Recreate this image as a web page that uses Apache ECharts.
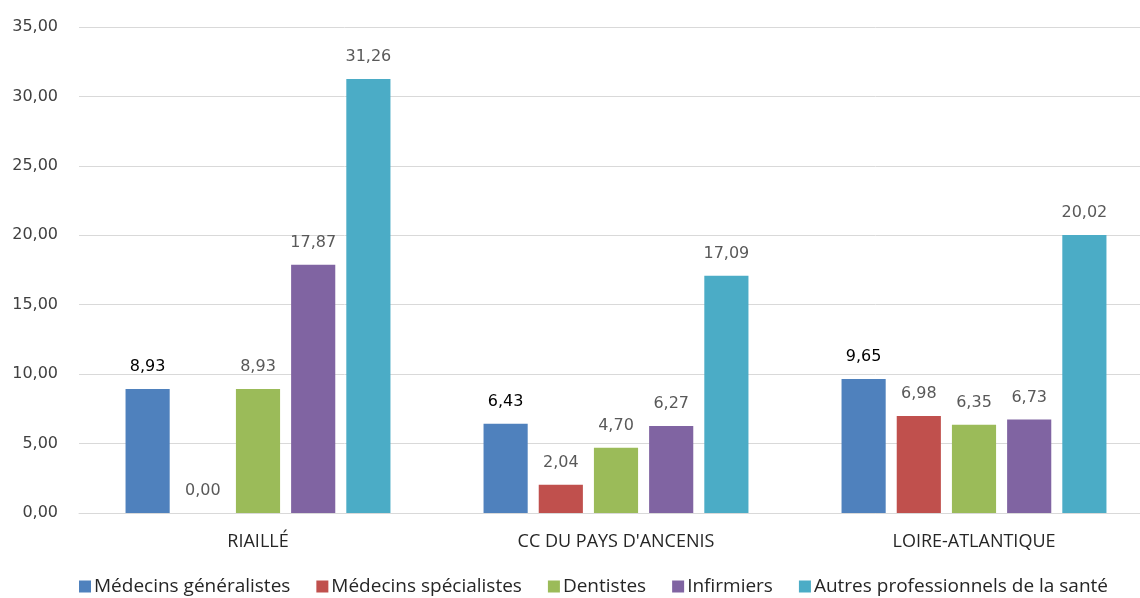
<!DOCTYPE html>
<html><head><meta charset="utf-8">
<script src="https://cdn.jsdelivr.net/npm/echarts@6/dist/echarts.min.js"></script>
<style>html,body{margin:0;padding:0;background:#fff}#c{width:1140px;height:598px}</style>
</head><body><div id="c"></div>
<script>
const categories = ["RIAILLÉ", "CC DU PAYS D'ANCENIS", "LOIRE-ATLANTIQUE"];
const seriesNames = ["Médecins généralistes", "Médecins spécialistes", "Dentistes", "Infirmiers", "Autres professionnels de la santé"];
const medGen = [8.93, 6.43, 9.65];
const medSpe = [0.00, 2.04, 6.98];
const dentistes = [8.93, 4.70, 6.35];
const infirmiers = [17.87, 6.27, 6.73];
const autres = [31.26, 17.09, 20.02];
const colors = ["#4F81BD", "#C0504D", "#9BBB59", "#8064A2", "#4BACC6"];
const values = [medGen, medSpe, dentistes, infirmiers, autres];
const labelColors = ["#000000", "#595959", "#595959", "#595959", "#595959"];
const fmt = v => v.toFixed(2).replace('.', ',');
const NUMFONT = "'DejaVu Sans', sans-serif";
const FONT = "'Open Sans', 'DejaVu Sans', sans-serif";
const chart = echarts.init(document.getElementById('c'), null, {renderer: 'canvas'});
chart.setOption({
  animation: false,
  color: colors,
  grid: {left: 79, width: 1074, top: 27, bottom: 85, containLabel: false, outerBoundsMode: 'none'},
  legend: {
    bottom: -3, left: 74, itemWidth: 12, itemHeight: 12, itemGap: 26,
    icon: 'rect',
    textStyle: {fontFamily: FONT, fontSize: 19, color: '#262626', padding: [0, 0, 0, -2]},
    data: seriesNames
  },
  xAxis: {
    type: 'category', data: categories,
    axisTick: {show: false},
    axisLine: {lineStyle: {color: '#D9D9D9', width: 1}},
    axisLabel: {fontFamily: FONT, fontSize: 18, color: '#262626', margin: 20}
  },
  yAxis: {
    type: 'value', min: 0, max: 35, interval: 5,
    axisLine: {show: false}, axisTick: {show: false},
    splitLine: {lineStyle: {color: '#D9D9D9', width: 1}},
    axisLabel: {fontFamily: NUMFONT, fontSize: 16, color: '#404040', margin: 21, formatter: v => fmt(v)}
  },
  series: seriesNames.map((n, i) => ({
    name: n, type: 'bar', data: values[i],
    barGap: '25%', barCategoryGap: '26%',
    itemStyle: {color: colors[i]},
    label: {show: true, position: 'top', distance: 14, fontFamily: NUMFONT, fontSize: 16,
      color: labelColors[i], formatter: p => fmt(p.value)}
  }))
});
</script></body></html>
